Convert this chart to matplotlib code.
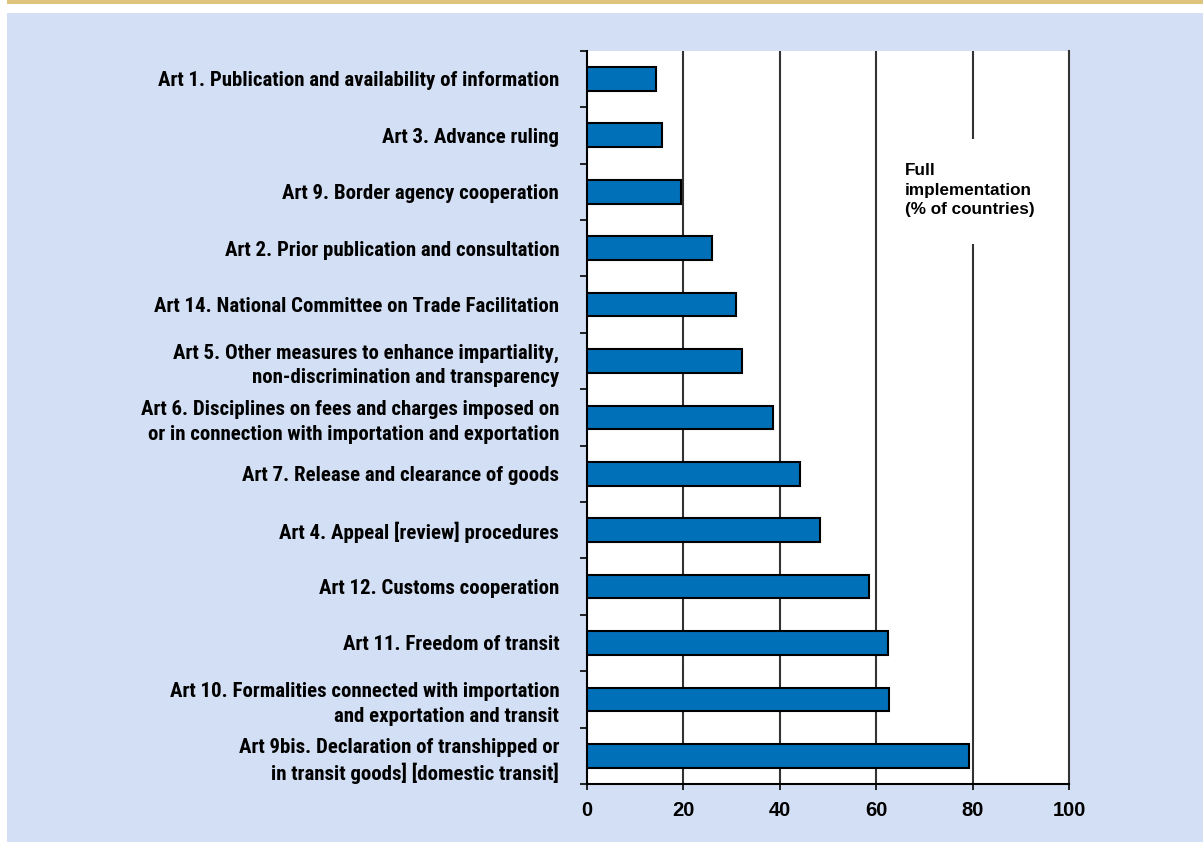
import matplotlib
matplotlib.use("Agg")
import matplotlib.pyplot as plt
from matplotlib.patches import Rectangle
import numpy as np

categories = [
    "Art 1. Publication and availability of information",
    "Art 3. Advance ruling",
    "Art 9. Border agency cooperation",
    "Art 2. Prior publication and consultation",
    "Art 14. National Committee on Trade Facilitation",
    "Art 5. Other measures to enhance impartiality,\nnon-discrimination and transparency",
    "Art 6. Disciplines on fees and charges imposed on\nor in connection with importation and exportation",
    "Art 7. Release and clearance of goods",
    "Art 4. Appeal [review] procedures",
    "Art 12. Customs cooperation",
    "Art 11. Freedom of transit",
    "Art 10. Formalities connected with importation\nand exportation and transit",
    "Art 9bis. Declaration of transhipped or\nin transit goods] [domestic transit]",
]
values = [14.4, 15.5, 19.4, 25.9, 30.9, 32.2, 38.6, 44.2, 48.3, 58.5, 62.4, 62.7, 79.3]
xticks = [0, 20, 40, 60, 80, 100]
annotation = "Full\nimplementation\n(% of countries)"

BG = "#d3dff4"
GOLD = "#dfc47e"
BAR = "#0070b9"
LABEL_FONT = ["Roboto Condensed", "DejaVu Sans"]
TICK_FONT = ["Liberation Sans", "DejaVu Sans"]

fig = plt.figure(figsize=(12.03, 8.42), dpi=100)
fig.patch.set_facecolor("white")
fig.add_artist(Rectangle((7/1203, 1 - 4/842), 1, 4/842, transform=fig.transFigure,
                         facecolor=GOLD, edgecolor="none", zorder=0))
fig.add_artist(Rectangle((7/1203, 0), 1, 1 - 13/842, transform=fig.transFigure,
                         facecolor=BG, edgecolor="none", zorder=0))

ax = fig.add_axes([587/1203, 1 - 784/842, (1069 - 587)/1203, (784 - 50.7)/842])
ax.set_facecolor("white")
ax.set_zorder(1)

n = len(categories)
y = np.arange(n) + 0.5
ax.barh(y, values, height=0.42, color=BAR, edgecolor="black", linewidth=1.5, zorder=3)

ax.set_xlim(0, 100)
ax.set_ylim(n, 0)

for g in xticks[1:-1]:
    ax.axvline(g, color="#333333", linewidth=1.5, zorder=1)

# white gap in the 80 gridline behind the annotation
ax.add_patch(Rectangle((76, 1.566), 8, 1.86, facecolor="white", edgecolor="none", zorder=2))
ax.text(66, 2.47, annotation, fontsize=12.3, fontweight="bold", family=TICK_FONT,
        ha="left", va="center", linespacing=1.35, zorder=4)

ax.set_xticks(xticks)
ax.set_xticklabels([str(t) for t in xticks], fontsize=14.5, fontweight="bold",
                   family=TICK_FONT)
ax.tick_params(axis="x", direction="out", length=4.5, width=1.2, pad=8, color="black")

ax.set_yticks(y)
ax.set_yticklabels(categories, fontsize=15, fontweight="bold",
                   family=LABEL_FONT, linespacing=1.35)
ax.tick_params(axis="y", which="major", length=0, pad=20)
ax.set_yticks(np.arange(n + 1), minor=True)
ax.tick_params(axis="y", which="minor", direction="out", length=5, width=1.2, color="black")

ax.spines["top"].set_visible(False)
ax.spines["right"].set_color("#333333")
ax.spines["right"].set_linewidth(1.5)
ax.spines["left"].set_linewidth(1.5)
ax.spines["bottom"].set_linewidth(1.5)

fig.savefig("out.png", dpi=100, facecolor=fig.get_facecolor())
